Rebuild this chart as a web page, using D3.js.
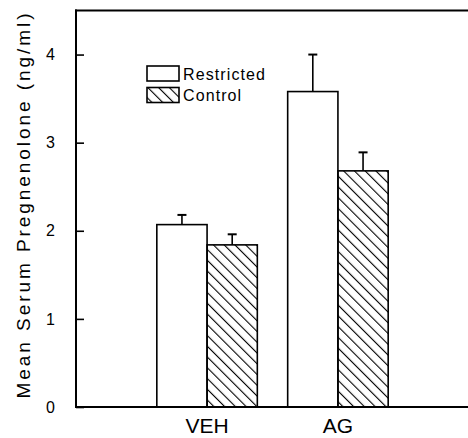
<!DOCTYPE html>
<html>
<head>
<meta charset="utf-8">
<script src="https://cdn.jsdelivr.net/npm/d3@7"></script>
<style>
  html, body { margin: 0; padding: 0; background: #fff; }
  svg { display: block; font-family: "Liberation Sans", Arial, sans-serif; }
</style>
</head>
<body>
<div id="chart"></div>
<script>
// data
const groups = ['VEH', 'AG'];
const series = ['Restricted', 'Control'];
const restrictedMeans = [2.07, 3.58];
const restrictedErr = [0.11, 0.42];
const controlMeans = [1.84, 2.68];
const controlErr = [0.12, 0.21];
const yTicks = [0, 1, 2, 3, 4];

const width = 468, height = 438;
const margin = { top: 10.5, left: 76, bottom: 407 };

const svg = d3.select('#chart').append('svg')
  .attr('width', width)
  .attr('height', height);

// hatch pattern for Control
svg.append('defs').append('pattern')
  .attr('id', 'hatch')
  .attr('patternUnits', 'userSpaceOnUse')
  .attr('width', 7.6)
  .attr('height', 7.6)
  .attr('patternTransform', 'rotate(-45)')
  .append('line')
  .attr('x1', 0).attr('y1', 0)
  .attr('x2', 0).attr('y2', 7.6)
  .attr('stroke', '#000')
  .attr('stroke-width', 2.2);

const y = d3.scaleLinear().domain([0, 4.5]).range([margin.bottom, margin.top]);
const x0 = d3.scaleBand().domain(groups).range([77, 468]).paddingInner(0.232).paddingOuter(0.61);
const x1 = d3.scaleBand().domain(series).range([0, x0.bandwidth()]);

const rows = [];
groups.forEach((g, i) => {
  rows.push({ group: g, series: 'Restricted', mean: restrictedMeans[i], err: restrictedErr[i] });
  rows.push({ group: g, series: 'Control', mean: controlMeans[i], err: controlErr[i] });
});
const fillFor = s => s === 'Control' ? 'url(#hatch)' : '#fff';

// error bars (drawn first so bar outline sits on top)
const eb = svg.append('g').attr('stroke', '#000').attr('stroke-width', 1.6);
rows.forEach(d => {
  const cx = x0(d.group) + x1(d.series) + x1.bandwidth() / 2;
  eb.append('line')
    .attr('x1', cx).attr('x2', cx)
    .attr('y1', y(d.mean)).attr('y2', y(d.mean + d.err));
  eb.append('line')
    .attr('x1', cx - 4.5).attr('x2', cx + 4.5)
    .attr('y1', y(d.mean + d.err)).attr('y2', y(d.mean + d.err))
    .attr('stroke-width', 2);
});

// bars
svg.append('g').selectAll('rect')
  .data(rows)
  .join('rect')
  .attr('x', d => x0(d.group) + x1(d.series))
  .attr('y', d => y(d.mean))
  .attr('width', x1.bandwidth())
  .attr('height', d => y(0) - y(d.mean))
  .attr('fill', d => fillFor(d.series))
  .attr('stroke', '#000')
  .attr('stroke-width', 1.6);

// axes: left with inward ticks, top line, bottom line
const yAxis = svg.append('g')
  .attr('transform', `translate(${margin.left},0)`)
  .call(d3.axisLeft(y).tickValues(yTicks).tickSize(-8).tickPadding(21).tickFormat(d3.format('d')));
yAxis.select('.domain').remove();
yAxis.selectAll('.tick line').attr('stroke-width', 1.6);
yAxis.selectAll('.tick text').attr('font-size', 16).attr('font-family', '"Liberation Sans", Arial, sans-serif');

svg.append('line')
  .attr('x1', margin.left).attr('x2', margin.left)
  .attr('y1', margin.top - 1).attr('y2', margin.bottom + 1)
  .attr('stroke', '#000').attr('stroke-width', 2);
svg.append('line')
  .attr('x1', margin.left - 1).attr('x2', width)
  .attr('y1', margin.top).attr('y2', margin.top)
  .attr('stroke', '#000').attr('stroke-width', 2);
svg.append('line')
  .attr('x1', margin.left - 1).attr('x2', width)
  .attr('y1', margin.bottom).attr('y2', margin.bottom)
  .attr('stroke', '#000').attr('stroke-width', 2);

// group labels
svg.append('g').selectAll('text')
  .data(groups)
  .join('text')
  .attr('x', d => x0(d) + x0.bandwidth() / 2)
  .attr('y', 433)
  .attr('text-anchor', 'middle')
  .attr('font-size', 21)
  .text(d => d);

// y title
svg.append('text')
  .attr('transform', 'translate(30,206) rotate(-90)')
  .attr('text-anchor', 'middle')
  .attr('font-size', 19)
  .attr('textLength', 385)
  .attr('lengthAdjust', 'spacing')
  .text('Mean Serum Pregnenolone (ng/ml)');

// legend
const legend = svg.append('g').attr('transform', 'translate(147,66)');
series.forEach((s, i) => {
  const row = legend.append('g').attr('transform', `translate(0,${i * 21.5})`);
  row.append('rect')
    .attr('width', 32).attr('height', 15)
    .attr('fill', fillFor(s))
    .attr('stroke', '#000').attr('stroke-width', 1.6);
  row.append('text')
    .attr('x', 36).attr('y', 13.5)
    .attr('font-size', 16)
    .attr('letter-spacing', 1.1)
    .text(s);
});
</script>
</body>
</html>
